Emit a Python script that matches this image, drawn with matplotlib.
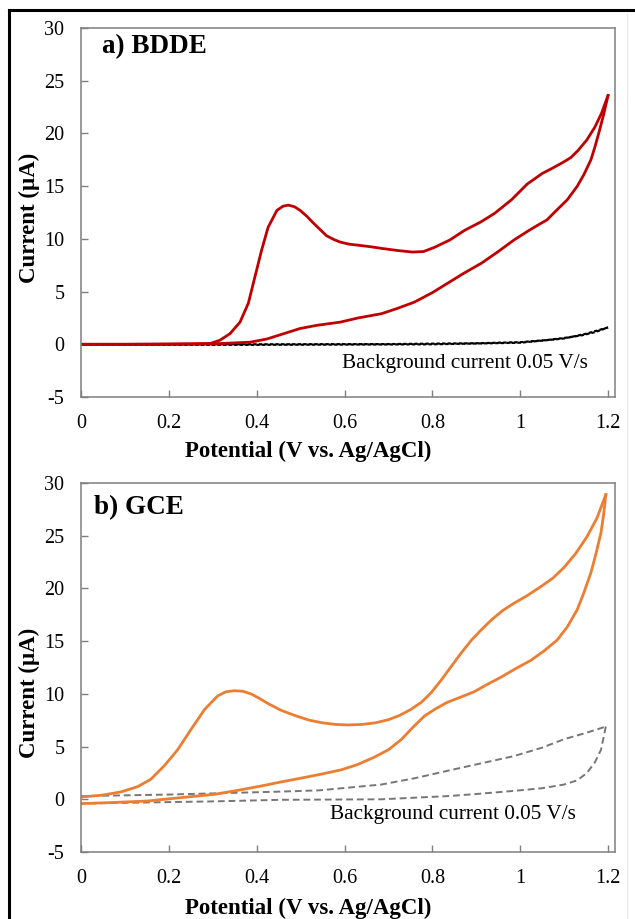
import matplotlib
matplotlib.use("Agg")
import matplotlib.pyplot as plt
from matplotlib.lines import Line2D

plt.rcParams['font.family'] = ['Liberation Serif', 'DejaVu Serif']
plt.rcParams['axes.unicode_minus'] = False

# ---- a) BDDE ----
bdde_fwd_v = [0, 0.1, 0.2, 0.26, 0.294, 0.316, 0.339, 0.362, 0.381, 0.396, 0.411, 0.426, 0.446, 0.46,
              0.472, 0.486, 0.499, 0.514, 0.529, 0.544, 0.559, 0.575, 0.59, 0.61, 0.631, 0.66, 0.684,
              0.72, 0.755, 0.78, 0.805, 0.84, 0.873, 0.91, 0.941, 0.98, 1.016, 1.05, 1.073, 1.095,
              1.115, 1.132, 1.152, 1.17, 1.185, 1.2]
bdde_fwd_i = [0, 0, 0.02, 0.04, 0.07, 0.38, 1.0, 2.1, 3.9, 6.4, 8.9, 11.1, 12.7, 13.1,
              13.2, 13.05, 12.7, 12.15, 11.5, 10.9, 10.3, 9.95, 9.7, 9.5, 9.4, 9.25, 9.1,
              8.9, 8.75, 8.8, 9.2, 9.9, 10.8, 11.6, 12.4, 13.7, 15.2, 16.2, 16.7, 17.2,
              17.7, 18.4, 19.4, 20.6, 21.9, 23.6]
bdde_rev_v = [1.2, 1.19, 1.18, 1.17, 1.161, 1.145, 1.13, 1.107, 1.08, 1.061, 1.04, 1.02, 0.986, 0.95,
              0.912, 0.87, 0.835, 0.8, 0.759, 0.72, 0.684, 0.631, 0.59, 0.537, 0.499, 0.461, 0.423,
              0.385, 0.316, 0.2, 0.1, 0]
bdde_rev_i = [23.6, 21.8, 20.2, 18.7, 17.5, 16.1, 15.0, 13.7, 12.6, 11.8, 11.3, 10.8, 9.9, 8.8,
              7.7, 6.7, 5.8, 4.9, 4.0, 3.4, 2.9, 2.5, 2.1, 1.8, 1.5, 1.0, 0.5,
              0.2, 0.07, 0.02, 0, 0]
bdde_bg_fwd_v = [0, 0.4, 0.7, 0.9, 1.0, 1.06, 1.1, 1.14, 1.17, 1.2]
bdde_bg_fwd_i = [0, 0, 0.02, 0.1, 0.2, 0.4, 0.6, 0.85, 1.15, 1.6]
bdde_bg_rev_v = [1.2, 1.15, 1.1, 1.0, 0.8, 0.4, 0]
bdde_bg_rev_i = [1.6, 1.0, 0.55, 0.15, 0.0, -0.05, -0.05]

# ---- b) GCE ----
gce_fwd_v = [0, 0.046, 0.091, 0.129, 0.159, 0.19, 0.22, 0.25, 0.281, 0.311, 0.33, 0.349, 0.368, 0.387,
             0.405, 0.425, 0.455, 0.49, 0.52, 0.55, 0.58, 0.607, 0.64, 0.67, 0.7, 0.725, 0.75, 0.775,
             0.797, 0.82, 0.843, 0.866, 0.889, 0.912, 0.934, 0.96, 0.986, 1.015, 1.048, 1.075, 1.1,
             1.126, 1.152, 1.175, 1.195]
gce_fwd_i = [0.22, 0.38, 0.7, 1.2, 1.9, 3.2, 4.7, 6.6, 8.5, 9.8, 10.2, 10.3, 10.25, 10.0,
             9.6, 9.1, 8.45, 7.9, 7.5, 7.25, 7.1, 7.05, 7.1, 7.25, 7.55, 7.95, 8.5, 9.2,
             10.1, 11.3, 12.6, 13.9, 15.1, 16.1, 17.0, 17.9, 18.6, 19.3, 20.2, 21.0, 22.0,
             23.3, 24.9, 26.7, 28.9]
gce_rev_v = [1.195, 1.19, 1.184, 1.172, 1.161, 1.145, 1.13, 1.108, 1.084, 1.055, 1.025, 0.99, 0.957,
             0.925, 0.895, 0.865, 0.834, 0.808, 0.782, 0.755, 0.73, 0.7, 0.668, 0.63, 0.593, 0.543,
             0.5, 0.455, 0.41, 0.364, 0.304, 0.228, 0.152, 0.076, 0]
gce_rev_i = [28.9, 27.0, 25.3, 23.2, 21.5, 19.6, 18.0, 16.4, 15.1, 14.1, 13.2, 12.4, 11.6,
             10.9, 10.2, 9.7, 9.2, 8.6, 7.9, 6.8, 5.7, 4.7, 4.0, 3.3, 2.8, 2.35,
             2.0, 1.64, 1.26, 0.9, 0.47, 0.16, -0.16, -0.3, -0.41]
gce_bg_fwd_v = [0, 0.2, 0.455, 0.543, 0.684, 0.76, 0.834, 0.91, 0.986, 1.05, 1.1, 1.15, 1.195]
gce_bg_fwd_i = [0.3, 0.45, 0.73, 0.85, 1.4, 2.0, 2.7, 3.4, 4.1, 4.9, 5.7, 6.3, 6.9]
gce_bg_rev_v = [1.195, 1.184, 1.17, 1.152, 1.13, 1.1, 1.05, 0.986, 0.9, 0.834, 0.684, 0.455, 0.3, 0]
gce_bg_rev_i = [6.9, 4.7, 3.5, 2.5, 1.8, 1.4, 1.05, 0.8, 0.5, 0.3, 0.0, -0.05, -0.2, -0.4]

x_ticks = [0, 0.2, 0.4, 0.6, 0.8, 1.0, 1.2]
x_labels = ["0", "0.2", "0.4", "0.6", "0.8", "1", "1.2"]
y_ticks = [-5, 0, 5, 10, 15, 20, 25, 30]

FRAME = "#7f7f7f"

fig = plt.figure(figsize=(6.35, 9.19), dpi=100)
ax_a = fig.add_axes([0.1276, 0.568, 0.841, 0.4015])
ax_b = fig.add_axes([0.1276, 0.0729, 0.841, 0.4015])


def style(ax):
    ax.set_xlim(0, 1.216)
    ax.set_ylim(-5, 30)
    ax.set_xticks(x_ticks)
    ax.set_xticklabels(x_labels)
    ax.set_yticks(y_ticks)
    ax.tick_params(direction="in", length=5, width=1, color=FRAME, labelsize=14.5, pad=12)
    for s in ax.spines.values():
        s.set_color(FRAME)
        s.set_linewidth(1.1)


# panel a
ax_a.plot(bdde_bg_fwd_v, bdde_bg_fwd_i, color="black", lw=1.6, ls=(0, (1.5, 1)))
ax_a.plot(bdde_bg_rev_v, bdde_bg_rev_i, color="black", lw=1.6, ls=(0, (1.5, 1)))
ax_a.plot(bdde_fwd_v, bdde_fwd_i, color="#C00000", lw=2.0, solid_joinstyle="round")
ax_a.plot(bdde_rev_v, bdde_rev_i, color="#C00000", lw=2.0, solid_joinstyle="round")
style(ax_a)
ax_a.text(0.048, 28.2, "a) BDDE", fontsize=19.5, fontweight="bold", va="center", ha="left")
ax_a.text(0.594, -1.8, "Background current 0.05 V/s", fontsize=15.3, va="center", ha="left")

# panel b
ax_b.plot(gce_bg_fwd_v, gce_bg_fwd_i, color="#767676", lw=1.4, ls=(0, (3.5, 2)))
ax_b.plot(gce_bg_rev_v, gce_bg_rev_i, color="#767676", lw=1.4, ls=(0, (3.5, 2)))
ax_b.plot(gce_fwd_v, gce_fwd_i, color="#ED7D31", lw=2.0, solid_joinstyle="round")
ax_b.plot(gce_rev_v, gce_rev_i, color="#ED7D31", lw=2.0, solid_joinstyle="round")
style(ax_b)
ax_b.text(0.03, 27.7, "b) GCE", fontsize=19.5, fontweight="bold", va="center", ha="left")
ax_b.text(0.567, -1.4, "Background current 0.05 V/s", fontsize=15.3, va="center", ha="left")

# axis titles
for yc, xl_y in [(0.763, 0.509), (0.246, 0.012)]:
    fig.text(0.046, yc, "Current (µA)", rotation=90, fontsize=16.5, fontweight="bold",
             ha="center", va="center")
    fig.text(0.485, xl_y, "Potential (V vs. Ag/AgCl)", fontsize=16.5, fontweight="bold",
             ha="center", va="center")

# outer border
fig.add_artist(Line2D([0.0142, 0.0142], [0, 0.989], transform=fig.transFigure, color="black", lw=2.2))
fig.add_artist(Line2D([0.0142, 1.0], [0.989, 0.989], transform=fig.transFigure, color="black", lw=2.2))
fig.add_artist(Line2D([0.988, 0.988], [0, 0.985], transform=fig.transFigure, color="#e6e6e6", lw=0.8))

fig.savefig("out.png", dpi=100)
